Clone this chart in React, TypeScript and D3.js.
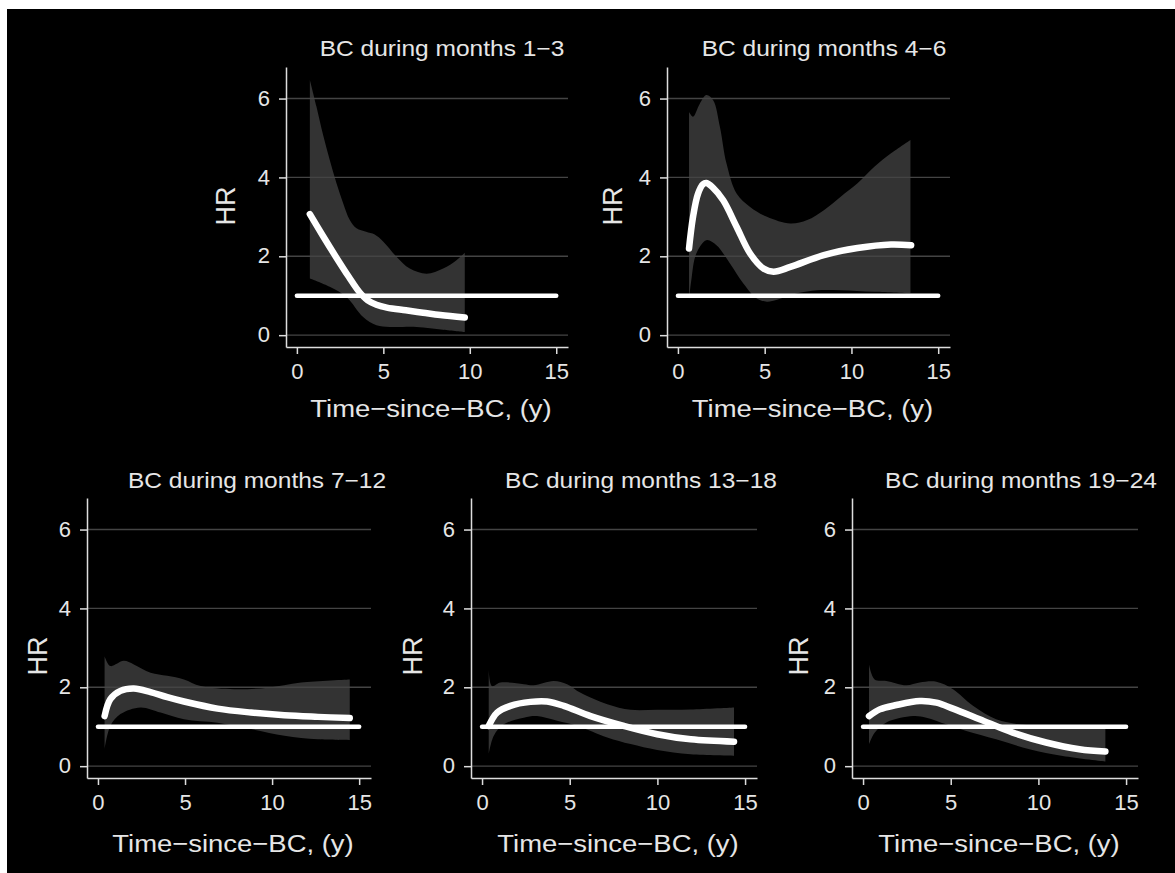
import React, { useRef, useEffect } from "react";
import * as d3 from "d3";

// panel titles (unicode minus as in the figure)
const panelTitles = [
  "BC during months 1\u22123",
  "BC during months 4\u22126",
  "BC during months 7\u221212",
  "BC during months 13\u221218",
  "BC during months 19\u221224",
];
const xTicks = [0, 5, 10, 15];
const yTicks = [0, 2, 4, 6];
const xLabel = "Time\u2212since\u2212BC, (y)";
const yLabel = "HR";
const refHR = 1;
const refSpan = [0, 15];

// [years since BC, HR]
const p1Curve = [[0.75, 3.07], [1.5, 2.52], [2.25, 1.99], [3.0, 1.48], [3.6, 1.1], [4.1, 0.88], [4.6, 0.77], [5.2, 0.7], [6.3, 0.63], [7.3, 0.57], [8.3, 0.51], [9.71, 0.45]];
const p1Upper = [[0.75, 6.47], [1.13, 5.8], [1.52, 5.07], [1.9, 4.44], [2.29, 3.85], [2.68, 3.34], [3.06, 2.92], [3.45, 2.71], [4.0, 2.62], [4.5, 2.55], [5.0, 2.37], [5.76, 1.99], [6.53, 1.69], [7.5, 1.56], [8.46, 1.69], [9.23, 1.9], [9.71, 2.09]];
const p1Lower = [[0.75, 1.44], [1.9, 1.23], [2.87, 0.97], [3.83, 0.46], [4.6, 0.25], [5.38, 0.21], [6.92, 0.21], [8.46, 0.14], [9.71, 0.08]];

const p2Curve = [[0.64, 2.2], [0.87, 3.0], [1.16, 3.59], [1.45, 3.83], [1.64, 3.86], [2.0, 3.75], [2.61, 3.42], [3.38, 2.75], [4.16, 2.07], [4.93, 1.69], [5.51, 1.61], [6.48, 1.73], [8.41, 2.03], [10.35, 2.21], [12.28, 2.3], [13.44, 2.28]];
const p2Upper = [[0.64, 5.66], [0.87, 5.54], [1.26, 5.87], [1.64, 6.09], [2.03, 5.96], [2.42, 5.28], [2.8, 4.35], [3.38, 3.59], [4.16, 3.25], [5.13, 3.0], [6.48, 2.83], [7.45, 2.92], [8.41, 3.17], [9.38, 3.51], [10.35, 3.85], [11.32, 4.27], [12.28, 4.61], [13.4, 4.95]];
const p2Lower = [[0.64, 0.89], [0.77, 1.39], [1.06, 2.07], [1.64, 2.41], [2.22, 2.28], [3.0, 1.82], [3.77, 1.31], [4.55, 0.93], [5.13, 0.85], [5.71, 0.9], [6.87, 1.06], [8.03, 1.14], [9.38, 1.14], [11.32, 1.1], [13.4, 1.06]];

const p3Curve = [[0.38, 1.27], [0.71, 1.7], [1.29, 1.91], [2.06, 1.97], [3.02, 1.88], [3.98, 1.75], [4.94, 1.64], [6.87, 1.46], [8.79, 1.36], [10.71, 1.29], [12.63, 1.25], [14.46, 1.22]];
const p3Upper = [[0.38, 2.79], [0.71, 2.54], [1.48, 2.67], [2.06, 2.58], [3.02, 2.37], [3.98, 2.29], [4.94, 2.2], [5.9, 2.03], [7.83, 1.95], [9.75, 1.99], [11.67, 2.12], [14.46, 2.2]];
const p3Lower = [[0.38, 0.43], [0.71, 1.02], [1.29, 1.32], [2.44, 1.49], [3.6, 1.36], [4.94, 1.19], [6.87, 1.1], [8.79, 0.94], [10.71, 0.77], [12.63, 0.68], [14.46, 0.66]];

const p4Curve = [[0.38, 1.02], [0.86, 1.36], [1.62, 1.53], [2.76, 1.63], [3.71, 1.64], [4.66, 1.53], [6.19, 1.27], [8.09, 1.02], [9.99, 0.81], [11.9, 0.68], [14.37, 0.62]];
const p4Upper = [[0.38, 2.46], [0.57, 2.03], [1.05, 2.12], [2.38, 2.08], [2.95, 2.05], [4.09, 2.16], [4.85, 2.08], [5.62, 1.86], [7.14, 1.57], [8.47, 1.43], [9.99, 1.43], [11.9, 1.44], [14.37, 1.49]];
const p4Lower = [[0.38, 0.3], [0.67, 0.77], [1.24, 1.06], [2.38, 1.23], [3.14, 1.27], [4.28, 1.15], [5.43, 1.02], [7.14, 0.73], [8.47, 0.56], [9.99, 0.41], [11.9, 0.3], [14.37, 0.26]];

const p5Curve = [[0.34, 1.27], [0.95, 1.44], [1.9, 1.55], [3.23, 1.65], [4.18, 1.61], [5.13, 1.46], [6.65, 1.19], [8.54, 0.85], [10.44, 0.6], [12.34, 0.43], [13.82, 0.37]];
const p5Upper = [[0.34, 2.58], [0.66, 2.2], [1.33, 2.16], [2.47, 2.05], [3.23, 2.12], [4.18, 2.14], [5.13, 1.95], [6.27, 1.53], [7.59, 1.19], [8.92, 1.06], [10.06, 1.02], [13.82, 0.95]];
const p5Lower = [[0.34, 0.56], [0.66, 0.85], [1.33, 1.11], [2.85, 1.27], [3.61, 1.23], [4.75, 1.06], [5.89, 0.89], [7.59, 0.68], [9.49, 0.43], [11.39, 0.26], [13.82, 0.12]];

const curves = [p1Curve, p2Curve, p3Curve, p4Curve, p5Curve];
const uppers = [p1Upper, p2Upper, p3Upper, p4Upper, p5Upper];
const lowers = [p1Lower, p2Lower, p3Lower, p4Lower, p5Lower];

// plot boxes, in page pixels
const boxes = [
  { left: 286, right: 568, top: 67, bottom: 347, hrX: 225, hrY: 206, titleX: 442, titleY: 56, xtY: 417 },
  { left: 667, right: 950, top: 67, bottom: 347, hrX: 612, hrY: 206, titleX: 824, titleY: 56, xtY: 417 },
  { left: 87, right: 371, top: 498, bottom: 778, hrX: 37, hrY: 656, titleX: 257, titleY: 488, xtY: 852 },
  { left: 471, right: 757, top: 498, bottom: 778, hrX: 412, hrY: 656, titleX: 641, titleY: 488, xtY: 852 },
  { left: 852, right: 1138, top: 498, bottom: 778, hrX: 798, hrY: 656, titleX: 1021, titleY: 488, xtY: 852 },
];

const W = 1175;
const H = 873;
const FONT = "'Liberation Sans', Arial, Helvetica, sans-serif";

const App = () => {
  const svgRef = useRef(null);

  useEffect(() => {
    const svg = d3.select(svgRef.current);
    svg.selectAll("*").remove();

    svg.append("rect").attr("width", W).attr("height", H).attr("fill", "#fff");
    svg.append("rect").attr("x", 7).attr("y", 9).attr("width", W - 7).attr("height", H - 9).attr("fill", "#000");

    boxes.forEach((b, i) => {
      const x = d3.scaleLinear().domain([-0.63, 15.68]).range([b.left, b.right]);
      const y = d3.scaleLinear().domain([-0.3, 6.8]).range([b.bottom, b.top]);
      const g = svg.append("g");

      // confidence band: upper edge forward, lower edge back
      const line = d3
        .line()
        .x((d) => x(d[0]))
        .y((d) => y(d[1]))
        .curve(d3.curveCatmullRom.alpha(0.5));
      const up = line(uppers[i]);
      const lo = line(lowers[i].slice().reverse());
      g.append("path")
        .attr("d", up + "L" + lo.slice(1) + "Z")
        .attr("fill", "#333333");

      // grid lines
      g.selectAll(".grid")
        .data(yTicks)
        .enter()
        .append("line")
        .attr("x1", b.left)
        .attr("x2", b.right)
        .attr("y1", (d) => y(d))
        .attr("y2", (d) => y(d))
        .attr("stroke", "#444")
        .attr("stroke-width", 1.4);

      // axes
      const yAxis = g
        .append("g")
        .attr("transform", `translate(${b.left},0)`)
        .call(d3.axisLeft(y).tickValues(yTicks).tickSize(7).tickSizeOuter(0).tickPadding(9));
      const xAxis = g
        .append("g")
        .attr("transform", `translate(0,${b.bottom})`)
        .call(d3.axisBottom(x).tickValues(xTicks).tickSize(7).tickSizeOuter(0).tickPadding(9));
      [yAxis, xAxis].forEach((a) => {
        a.selectAll("path, line").attr("stroke", "#ddd").attr("stroke-width", 1.5);
        a.selectAll("text")
          .attr("fill", "#e6e6e6")
          .style("font-family", FONT)
          .style("font-size", "22px");
      });
      yAxis.selectAll("text").attr("dy", "0.3em");

      // reference line HR = 1
      g.append("line")
        .attr("x1", x(refSpan[0]))
        .attr("x2", x(refSpan[1]))
        .attr("y1", y(refHR))
        .attr("y2", y(refHR))
        .attr("stroke", "#fff")
        .attr("stroke-width", 4.5)
        .attr("stroke-linecap", "round");

      // fitted HR curve
      g.append("path")
        .attr("d", line(curves[i]))
        .attr("fill", "none")
        .attr("stroke", "#fff")
        .attr("stroke-width", 6.5)
        .attr("stroke-linecap", "round")
        .attr("stroke-linejoin", "round");

      // titles
      g.append("text")
        .attr("transform", `translate(${b.titleX},${b.titleY}) scale(1.09,1)`)
        .attr("text-anchor", "middle")
        .attr("fill", "#e6e6e6")
        .style("font-family", FONT)
        .style("font-size", "22.5px")
        .text(panelTitles[i]);

      g.append("text")
        .attr("transform", `translate(${(b.left + b.right) / 2 + 4},${b.xtY}) scale(1.12,1)`)
        .attr("text-anchor", "middle")
        .attr("fill", "#e6e6e6")
        .style("font-family", FONT)
        .style("font-size", "24.5px")
        .text(xLabel);

      g.append("text")
        .attr("transform", `translate(${b.hrX},${b.hrY}) rotate(-90)`)
        .attr("text-anchor", "middle")
        .attr("dy", "0.36em")
        .attr("fill", "#e6e6e6")
        .style("font-family", FONT)
        .style("font-size", "27px")
        .text(yLabel);
    });

    return () => {
      svg.selectAll("*").remove();
    };
  }, []);

  return (
    <svg
      ref={svgRef}
      width={W}
      height={H}
      style={{ position: "absolute", left: 0, top: 0, display: "block" }}
    />
  );
};

export default App;
